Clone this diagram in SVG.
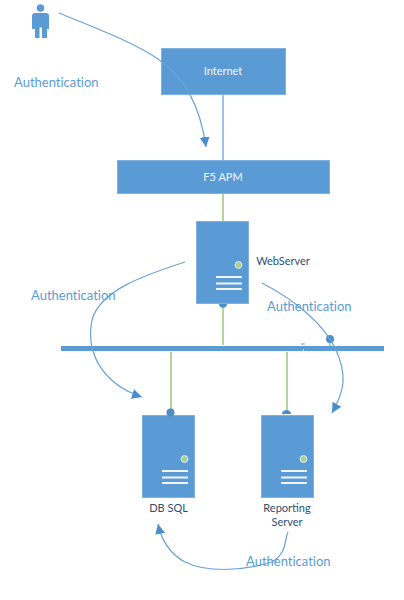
<svg xmlns="http://www.w3.org/2000/svg" width="404" height="600" viewBox="0 0 404 600">
<defs>
<marker id="arrow" markerUnits="userSpaceOnUse" markerWidth="12" markerHeight="12" refX="10" refY="5" orient="auto"><path d="M0 0L10 5L0 10Z" fill="#4a8dcb"/></marker>
<g id="server">
<rect x="0" y="0" width="52" height="82" class="box"/>
<circle cx="42" cy="43.500" r="3.400" fill="#a9d18e" stroke="#e3edf6" stroke-width="1"/>
<path d="M19.500 55.500H45.500M19.500 62H45.500M19.500 67.500H45.500" stroke="#f2f6fb" stroke-width="2" fill="none"/>
</g>
</defs>
<style>
.box{fill:#5b9bd5;stroke:#7fb1e0;stroke-width:1}
.green{stroke:#8fbc6a;stroke-width:1.300;fill:none}
.blue{stroke:#5b9bd5;stroke-width:1.200;fill:none}
.curve{stroke:#6aa3d8;stroke-width:1.200;fill:none;marker-end:url(#arrow)}
.auth{font:13px Lato,"Liberation Sans",sans-serif;font-variant-ligatures:none;fill:#5b9bd5}
.white{font:11px Lato,"Liberation Sans",sans-serif;fill:#f4f8fc;text-anchor:middle}
.dark{font:11px Lato,"Liberation Sans",sans-serif;fill:#2f4f6f;text-anchor:middle}
</style>
<rect width="404" height="600" fill="#fff"/>
<g id="user">
<circle cx="40.500" cy="8" r="3.800" fill="#5b9bd5"/>
<path d="M32 16Q32 13 35 13H46Q49 13 49 16V29H47V38H42V27.500H39.500V38H35V29H32Z" fill="#5b9bd5"/>
</g>
<g id="internet"><rect class="box" x="161.500" y="48.500" width="124" height="46"/><text class="white" x="223" y="75">Internet</text></g>
<g id="f5apm"><rect class="box" x="117.500" y="160.500" width="212" height="33"/><text class="white" x="223" y="180.500">F5 APM</text></g>
<g id="webserver"><use href="#server" x="196.500" y="221.500"/><text class="dark" x="283" y="265">WebServer</text></g>
<g id="network"><rect x="61" y="346" width="323" height="5" fill="#5b9bd5"/></g>
<g id="dbsql"><use href="#server" x="142.500" y="415.500"/><text class="dark" x="168.500" y="512">DB SQL</text></g>
<g id="reporting"><use href="#server" x="261.500" y="415.500"/><text class="dark" x="287" y="512">Reporting</text><text class="dark" x="287" y="526">Server</text></g>
<g id="connectors">
<path class="blue" d="M223 95V160"/>
<path class="green" d="M223 194V221"/>
<path class="green" d="M223 304V345"/>
<path class="green" d="M171 352V414"/>
<path class="green" d="M287 352V412"/>
<path class="green" d="M330 342V346"/>
<circle cx="170.500" cy="412.500" r="4" fill="#4a8dcb"/>
<path d="M282 414a4.500 4 0 0 1 9 0Z" fill="#4a8dcb"/>
<path d="M219 304a3.800 3.500 0 0 0 8 0Z" fill="#4a8dcb"/>
<circle cx="330" cy="339" r="4" fill="#4a8dcb"/>
<path d="M301 344H305" stroke="#5b9bd5" stroke-width="1"/>
<path d="M303 350H304" stroke="#e3edf6" stroke-width="1.500"/>
<path class="curve" d="M59 13C100 30 135 43 158 59C185 78 200 105 206 147"/>
<path class="curve" d="M185 262C145 275 100 290 92 320C85 355 105 385 142 397"/>
<path class="curve" d="M262 283C295 300 325 325 336 350C347 375 345 390 332 413"/>
<path class="curve" d="M288 532C284 540 288 552 272 562C240 572 205 572 185 562C170 554 162 542 158 524"/>
</g>
<g id="labels">
<text class="auth" x="14" y="87">Authentication</text>
<text class="auth" x="31" y="300">Authentication</text>
<text class="auth" x="267" y="311">Authentication</text>
<text class="auth" x="246" y="566">Authentication</text>
</g>
</svg>
